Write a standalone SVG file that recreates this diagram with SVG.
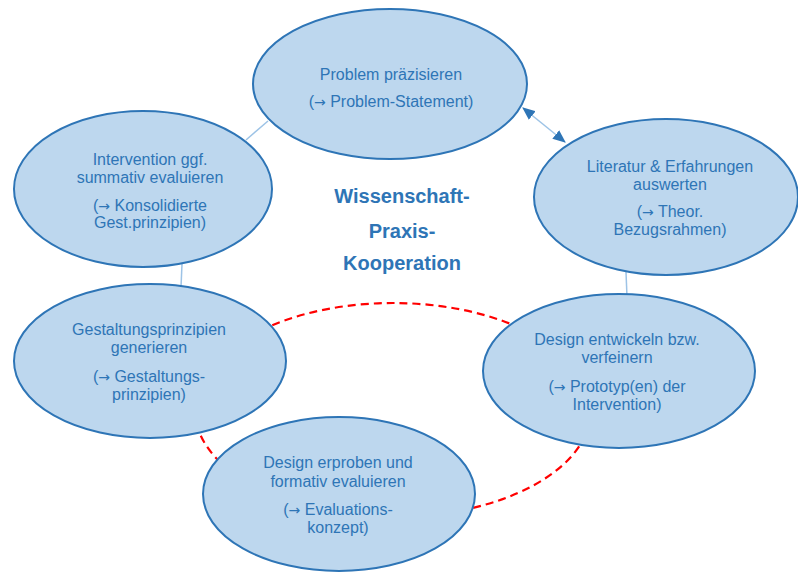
<svg xmlns="http://www.w3.org/2000/svg" width="798" height="573" viewBox="0 0 798 573">
  <style>
    .node { fill: #bdd7ee; stroke: #2e75b6; stroke-width: 2; }
    .label { font-family: "Liberation Sans", Arial, sans-serif; font-size: 16px; fill: #2e75b6; text-anchor: middle; }
    .arr { font-family: "DejaVu Sans", sans-serif; font-size: 14px; }
    .title { font-family: "Liberation Sans", Arial, sans-serif; font-size: 20px; font-weight: bold; fill: #2e75b6; text-anchor: middle; }
    .link { stroke: #9dc3e6; stroke-width: 1.5; fill: none; }
    .cycle { stroke: #ff0000; stroke-width: 2.2; fill: none; stroke-dasharray: 8 5; }
  </style>
  <defs>
    <marker id="arrow" viewBox="0 0 12 10" refX="11" refY="5" markerWidth="13" markerHeight="11" orient="auto-start-reverse" markerUnits="userSpaceOnUse">
      <path d="M0,0 L12,5 L0,10 z" fill="#2e75b6"/>
    </marker>
  </defs>

  <rect width="798" height="573" fill="#ffffff"/>

  <!-- connectors -->
  <g id="connectors">
    <ellipse class="cycle" cx="393" cy="410" rx="198" ry="107"/>
    <line class="link" x1="246" y1="140" x2="268" y2="121"/>
    <line class="link" x1="182" y1="264" x2="181" y2="287"/>
    <line class="link" x1="626" y1="272" x2="627" y2="297"/>
    <line class="link" x1="523" y1="108" x2="565" y2="142" marker-start="url(#arrow)" marker-end="url(#arrow)"/>
  </g>

  <g id="title">
    <text class="title" x="402" y="203">Wissenschaft-</text>
    <text class="title" x="402" y="238">Praxis-</text>
    <text class="title" x="402" y="270">Kooperation</text>
  </g>

  <g id="problem">
    <ellipse class="node" cx="390" cy="84" rx="137" ry="75"/>
    <text class="label" x="391" y="80">Problem präzisieren</text>
    <text class="label" x="391" y="107">(<tspan class="arr">→</tspan> Problem-Statement)</text>
  </g>

  <g id="literatur">
    <ellipse class="node" cx="666" cy="197" rx="132" ry="78"/>
    <text class="label" x="670" y="172">Literatur &amp; Erfahrungen</text>
    <text class="label" x="670" y="190">auswerten</text>
    <text class="label" x="670" y="217">(<tspan class="arr">→</tspan> Theor.</text>
    <text class="label" x="670" y="235">Bezugsrahmen)</text>
  </g>

  <g id="intervention">
    <ellipse class="node" cx="143" cy="189" rx="129" ry="78"/>
    <text class="label" x="150" y="165">Intervention ggf.</text>
    <text class="label" x="150" y="183">summativ evaluieren</text>
    <text class="label" x="150" y="211">(<tspan class="arr">→</tspan> Konsolidierte</text>
    <text class="label" x="150" y="228">Gest.prinzipien)</text>
  </g>

  <g id="gestaltung">
    <ellipse class="node" cx="150" cy="361" rx="136" ry="77"/>
    <text class="label" x="149" y="335">Gestaltungsprinzipien</text>
    <text class="label" x="149" y="353">generieren</text>
    <text class="label" x="149" y="382">(<tspan class="arr">→</tspan> Gestaltungs-</text>
    <text class="label" x="149" y="400">prinzipien)</text>
  </g>

  <g id="entwickeln">
    <ellipse class="node" cx="619" cy="371" rx="136" ry="77"/>
    <text class="label" x="617" y="345">Design entwickeln bzw.</text>
    <text class="label" x="617" y="363">verfeinern</text>
    <text class="label" x="617" y="392">(<tspan class="arr">→</tspan> Prototyp(en) der</text>
    <text class="label" x="617" y="410">Intervention)</text>
  </g>

  <g id="erproben">
    <ellipse class="node" cx="339" cy="494" rx="136" ry="77"/>
    <text class="label" x="338" y="468">Design erproben und</text>
    <text class="label" x="338" y="487">formativ evaluieren</text>
    <text class="label" x="338" y="515">(<tspan class="arr">→</tspan> Evaluations-</text>
    <text class="label" x="338" y="533">konzept)</text>
  </g>
</svg>
